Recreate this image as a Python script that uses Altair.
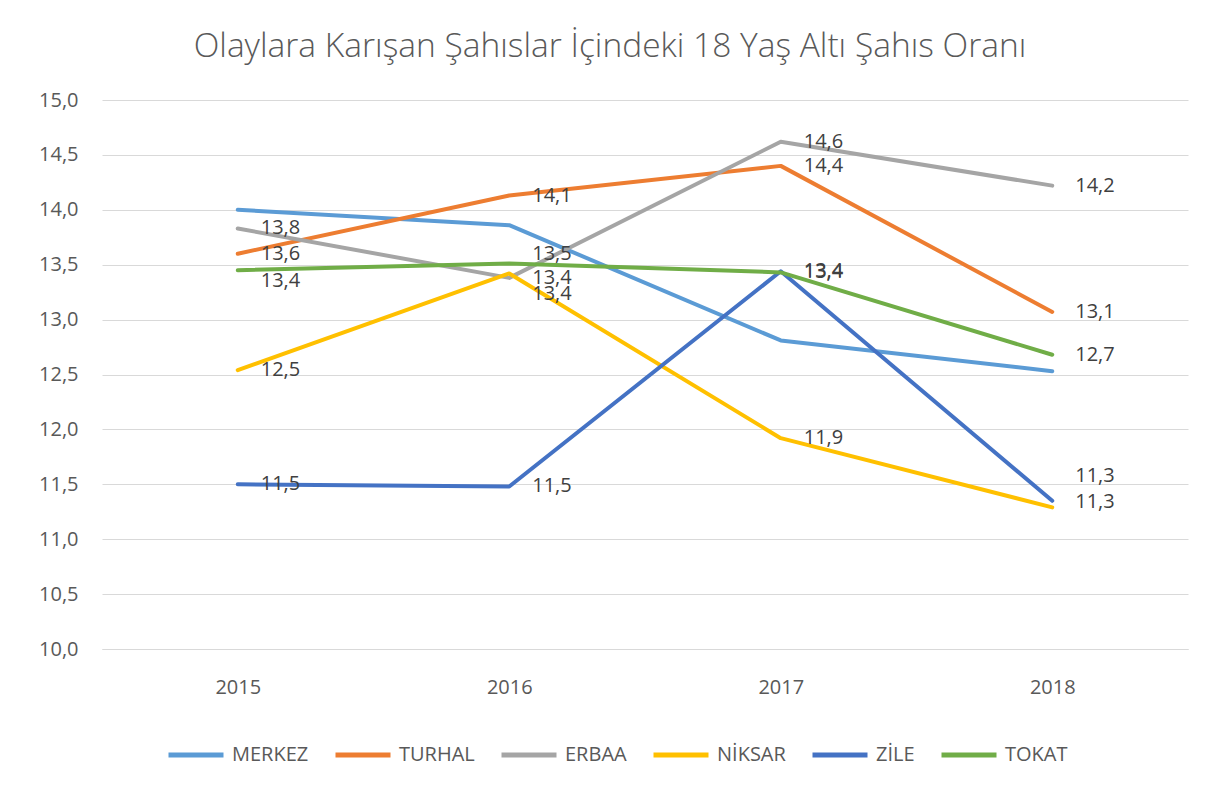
import altair as alt
import pandas as pd

years = ["2015", "2016", "2017", "2018"]
series = ["MERKEZ", "TURHAL", "ERBAA", "NİKSAR", "ZİLE", "TOKAT"]
merkez = [14.00, 13.86, 12.81, 12.53]
turhal = [13.60, 14.13, 14.40, 13.07]
erbaa = [13.83, 13.38, 14.62, 14.22]
niksar = [12.54, 13.42, 11.92, 11.29]
zile = [11.50, 11.48, 13.44, 11.35]
tokat = [13.45, 13.51, 13.43, 12.68]
labelled = ["TURHAL", "ERBAA", "NİKSAR", "ZİLE", "TOKAT"]
colors = ["#5B9BD5", "#ED7D31", "#A5A5A5", "#FFC000", "#4472C4", "#70AD47"]

# label nudges in pixels (layout only)
nudge = {("TOKAT", "2015"): 11, ("TOKAT", "2016"): -10, ("NİKSAR", "2016"): 21,
         ("ZİLE", "2018"): -25, ("NİKSAR", "2018"): -5}

values = [merkez, turhal, erbaa, niksar, zile, tokat]
rows = []
for s, vals in zip(series, values):
    for y, v in zip(years, vals):
        rows.append({"series": s, "year": y, "value": v,
                     "show": s in labelled, "nudge": nudge.get((s, y), 0)})
df = pd.DataFrame(rows)

FONT = "Open Sans"
GREY = "#595959"

x = alt.X("year:O", scale=alt.Scale(type="point", padding=0.5),
          axis=alt.Axis(title=None, labelAngle=0, ticks=False, domainColor="#D9D9D9",
                        labelFontSize=20, labelColor=GREY, labelPadding=28, labelFont=FONT))
y = alt.Y("value:Q", scale=alt.Scale(domain=[10, 15], nice=False, zero=False),
          axis=alt.Axis(title=None, values=[10, 10.5, 11, 11.5, 12, 12.5, 13, 13.5, 14, 14.5, 15],
                        labelExpr="replace(format(datum.value, '.1f'), '.', ',')",
                        domain=False, ticks=False, labelPadding=24, labelFontSize=20,
                        labelColor=GREY, labelFont=FONT, gridColor="#D9D9D9", gridWidth=1))

lines = alt.Chart(df).mark_line(strokeWidth=4, strokeCap="round", strokeJoin="round").encode(
    x=x, y=y,
    color=alt.Color("series:N", sort=series, scale=alt.Scale(domain=series, range=colors),
                    legend=alt.Legend(title=None, orient="none", direction="horizontal",
                                      legendX=64, legendY=625, symbolType="stroke",
                                      symbolSize=3025, symbolStrokeWidth=5, labelOffset=6,
                                      columnPadding=16, labelFontSize=20, labelColor=GREY,
                                      labelFont=FONT)),
    detail="series:N",
)

label_layers = []
for n in sorted(set(df["nudge"])):
    label_layers.append(
        alt.Chart(df).transform_filter(f"datum.show && datum.nudge == {n}").transform_calculate(
            lab="replace(format(datum.value, '.1f'), '.', ',')"
        ).mark_text(align="left", baseline="middle", dx=23, dy=int(n), fontSize=20,
                    color="#404040", font=FONT).encode(x=x, y=y, text="lab:N")
    )

chart = alt.layer(lines, *label_layers).properties(
    width=1086, height=549,
    title=alt.TitleParams("Olaylara Karışan Şahıslar İçindeki 18 Yaş Altı Şahıs Oranı",
                          fontSize=33.5, font=FONT, fontWeight=300, color=GREY,
                          anchor="middle", dx=-35, offset=26),
    padding={"left": 94, "top": 92, "right": 15, "bottom": 130},
    autosize=alt.AutoSizeParams(type="none"),
).configure_view(stroke=None)

chart.save("out.html", embed_options={"renderer": "svg", "actions": False})
